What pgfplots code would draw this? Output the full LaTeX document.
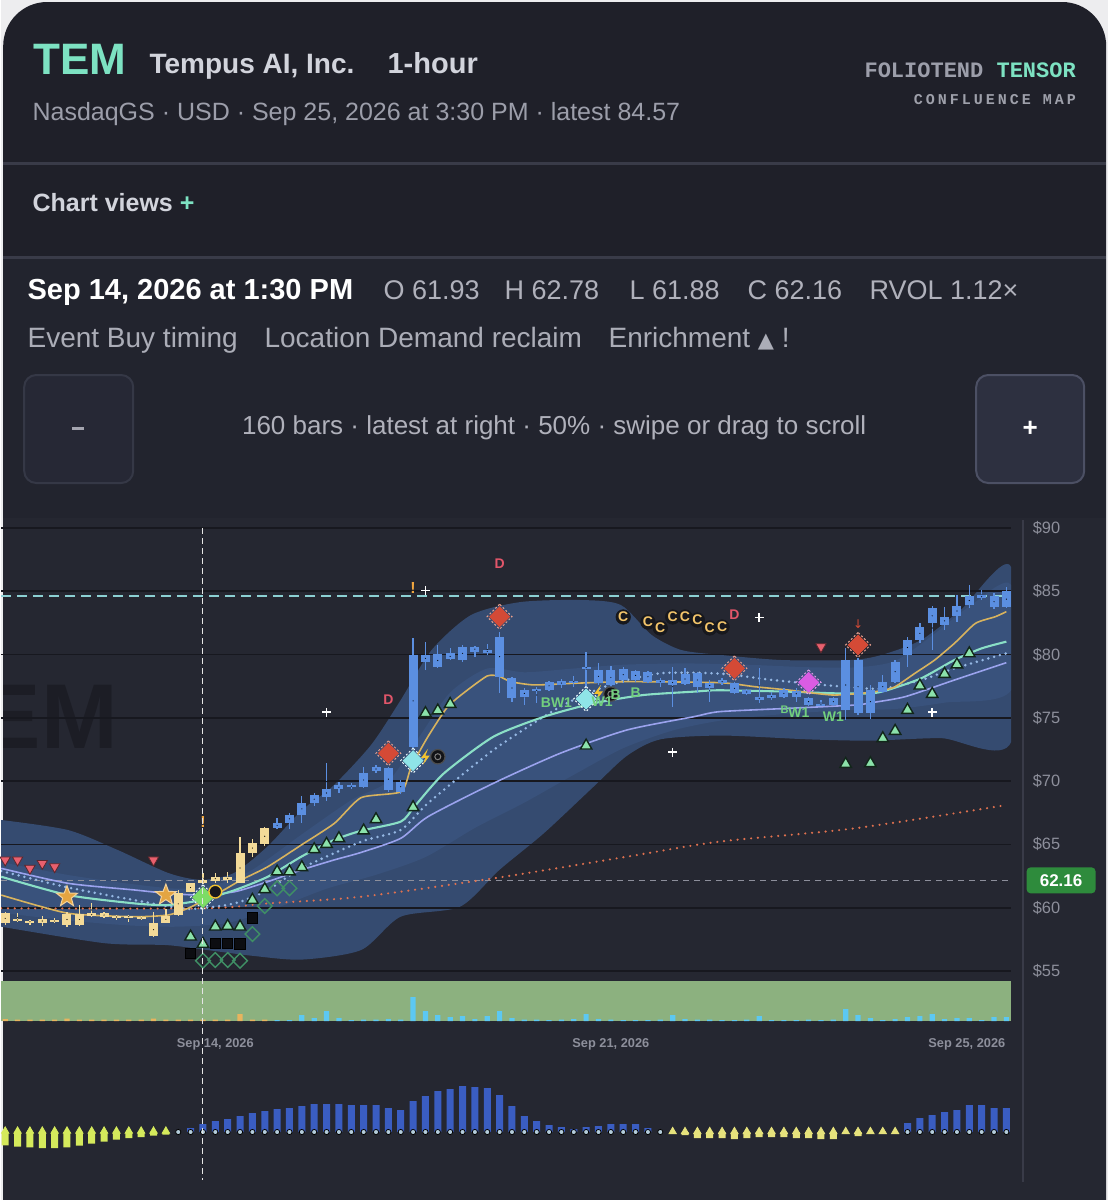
\documentclass[border=0pt]{standalone}
\usepackage{pgfplots}
\pgfplotsset{compat=1.18}
\usepackage{pgfplotstable}
\usetikzlibrary{shapes.geometric}
\usepackage{fontspec}
\setmainfont{Liberation Sans}
\newfontfamily\dejavu{DejaVu Sans}
\newfontfamily\monob[LetterSpace=20]{Liberation Mono}
\newfontfamily\monoa{Liberation Mono}

\definecolor{pagebg}{HTML}{EDEDEF}
\definecolor{cardbg}{HTML}{1F2029}
\definecolor{infobg}{HTML}{22242E}
\definecolor{chartbg}{HTML}{252731}
\definecolor{divc}{HTML}{393B48}
\definecolor{mint}{HTML}{7DE2C2}
\definecolor{hdrTxt}{HTML}{D2D4DC}
\definecolor{subTxt}{HTML}{9C9EAA}
\definecolor{tickgray}{HTML}{8D8F9B}
\definecolor{wmC}{HTML}{1C1D25}
\definecolor{gridc}{HTML}{17181F}
\definecolor{bandO}{HTML}{354B70}
\definecolor{bandI}{HTML}{3D5886}
\definecolor{candY}{HTML}{F3DA98}
\definecolor{candB}{HTML}{5B8FE1}
\definecolor{goldL}{HTML}{D8B35E}
\definecolor{tealL}{HTML}{8ADFC6}
\definecolor{lavL}{HTML}{9BA3EE}
\definecolor{dotB}{HTML}{95B8E4}
\definecolor{dotO}{HTML}{E0714F}
\definecolor{triG}{HTML}{8BE2AA}
\definecolor{triEdge}{HTML}{12261A}
\definecolor{triR}{HTML}{E8606E}
\definecolor{redD}{HTML}{D44A36}
\definecolor{redDE}{HTML}{E9A08E}
\definecolor{cyanD}{HTML}{8FE4E8}
\definecolor{magD}{HTML}{D95CE3}
\definecolor{greenD}{HTML}{7DDC66}
\definecolor{blkSq}{HTML}{0C0D11}
\definecolor{hollowG}{HTML}{3F8F65}
\definecolor{starO}{HTML}{E4A542}
\definecolor{starE}{HTML}{F4D29A}
\definecolor{boltY}{HTML}{F2C230}
\definecolor{cTxt}{HTML}{F2C46A}
\definecolor{cBg}{HTML}{17181D}
\definecolor{letterG}{HTML}{72CF7E}
\definecolor{dRed}{HTML}{E2566A}
\definecolor{exO}{HTML}{F0A640}
\definecolor{labG}{HTML}{2E8B3C}
\definecolor{volG}{HTML}{8CB17F}
\definecolor{volO}{HTML}{E8B45E}
\definecolor{volC}{HTML}{5CC8F2}
\definecolor{histB}{HTML}{3A5DC2}
\definecolor{histYG}{HTML}{D5EA5C}
\definecolor{histY}{HTML}{E6E27C}
\definecolor{histDot}{HTML}{B4CCDA}
\definecolor{btnFill}{HTML}{262835}
\definecolor{btnEdge}{HTML}{353846}
\definecolor{btnTwoFill}{HTML}{2D3040}
\definecolor{btnTwoEdge}{HTML}{4C5064}

\pgfdeclareplotmark{fstar}{\node[star,star points=5,star point ratio=2.4,fill=starO,draw=starE,line width=0.5pt,inner sep=0pt,minimum size=11pt]{};}
\pgfdeclareplotmark{bolt}{%
 \pgfpathmoveto{\pgfpoint{1.3pt}{4pt}}%
 \pgfpathlineto{\pgfpoint{-2.2pt}{-0.6pt}}%
 \pgfpathlineto{\pgfpoint{0pt}{-0.6pt}}%
 \pgfpathlineto{\pgfpoint{-1.3pt}{-4pt}}%
 \pgfpathlineto{\pgfpoint{2.2pt}{0.6pt}}%
 \pgfpathlineto{\pgfpoint{0pt}{0.6pt}}%
 \pgfpathclose\pgfusepathqfill}

\pgfplotsset{candle/.style={only marks, mark=*, mark size=0.01pt, mark options={draw=none, fill=none}, forget plot,
  error bars/y dir=both, error bars/y explicit, error bars/error mark=none}}

\begin{document}

\pgfplotstableread{
i bm bh wm wh
0 59.159 0.395 59.159 0.527
1 59.028 0.105 59.212 0.342
2 58.896 0.090 58.817 0.211
3 58.949 0.132 58.949 0.395
4 58.949 0.090 58.962 0.198
5 59.067 0.435 59.093 0.593
6 59.067 0.435 59.383 0.830
7 59.449 0.105 59.818 0.527
8 59.423 0.184 59.423 0.263
9 59.265 0.105 59.225 0.198
10 59.291 0.090 59.159 0.263
11 59.186 0.105 59.186 0.158
12 58.264 0.500 58.698 0.988
13 59.080 0.263 59.317 0.553
14 60.305 0.882 60.371 1.027
15 61.595 0.329 61.595 0.382
16 62.045 0.115 62.330 0.450
17 62.293 0.158 62.372 0.395
18 62.320 0.132 62.412 0.435
19 63.136 1.159 63.768 1.844
20 64.716 0.369 64.716 0.685
21 65.651 0.619 65.638 0.764
}\candYtab

\pgfplotstableread{
i bm bh wm wh
22 66.494 0.224 66.626 0.435
23 67.021 0.303 66.823 0.632
24 67.811 0.487 67.745 1.080
25 68.575 0.329 68.535 0.500
26 69.062 0.290 69.957 1.501
27 69.523 0.171 69.497 0.461
28 69.602 0.092 69.615 0.263
29 70.089 0.527 70.287 0.856
30 70.958 0.132 70.945 0.329
31 70.155 0.856 70.155 0.988
32 69.562 0.395 69.536 0.553
33 76.344 3.621 76.937 4.346
34 79.702 0.263 79.900 1.119
35 79.531 0.487 79.834 0.922
36 79.860 0.237 80.031 0.461
37 80.097 0.527 80.097 0.658
38 80.426 0.198 80.255 0.421
39 80.255 0.105 80.387 0.421
40 79.834 1.580 79.347 2.410
41 77.358 0.816 77.266 0.988
42 76.937 0.263 76.673 0.658
43 77.174 0.090 76.805 0.658
44 77.529 0.329 77.529 0.382
45 77.753 0.158 77.687 0.356
46 77.859 0.090 77.885 0.421
47 78.965 0.090 78.846 1.383
48 78.280 0.500 78.477 0.882
49 78.188 0.593 78.280 0.816
50 78.412 0.421 78.385 0.658
51 78.359 0.369 78.320 0.461
52 78.254 0.395 78.227 0.500
53 77.859 0.132 77.793 0.329
54 77.793 0.198 77.463 1.580
55 78.069 0.395 78.254 0.658
56 77.990 0.527 77.793 0.856
57 77.556 0.224 77.134 0.856
58 77.859 0.132 77.859 0.263
59 77.332 0.395 77.371 0.487
60 77.042 0.158 77.029 0.224
61 76.542 0.132 77.529 1.383
62 76.673 0.132 76.739 0.329
63 76.937 0.263 76.937 0.395
64 76.910 0.237 76.805 0.527
65 76.278 0.263 76.318 0.356
66 76.028 0.090 76.173 0.237
67 76.278 0.263 76.305 0.369
68 77.595 1.975 77.661 2.831
69 77.463 2.107 77.463 2.239
70 76.278 0.922 76.239 1.356
71 77.463 0.395 77.661 0.724
72 78.649 0.790 78.649 0.922
73 80.558 0.593 80.229 1.185
74 81.677 0.527 81.677 0.790
75 83.060 0.593 82.099 1.738
76 82.665 0.329 82.863 0.922
77 83.442 0.395 83.653 1.053
78 84.272 0.356 84.574 0.922
79 84.574 0.132 84.706 0.395
80 84.179 0.448 84.232 0.658
81 84.377 0.645 84.509 0.856
}\candBtab

\begin{tikzpicture}
\begin{scope}[x=0.5pt,y=-0.5pt]
\useasboundingbox (0,0) rectangle (1107,1200);
\fill[pagebg] (0,0) rectangle (1107,1200);
\fill[cardbg, rounded corners=22pt] (2,2) rectangle (1105,1280);
\fill[infobg] (2,258) rectangle (1105,518);
\fill[chartbg] (2,518) rectangle (1105,1200);
\fill[divc] (2,162) rectangle (1105,165);
\fill[divc] (2,256) rectangle (1105,259);
% header
\node[anchor=base west, inner sep=0pt, text=mint, font=\bfseries\fontsize{22}{22}\selectfont] at (32,74) {TEM};
\node[anchor=base west, inner sep=0pt, text=hdrTxt, font=\bfseries\fontsize{14}{14}\selectfont] at (148,73) {Tempus AI, Inc.};
\node[anchor=base west, inner sep=0pt, text=hdrTxt, font=\bfseries\fontsize{14.5}{14}\selectfont] at (386,73) {1-hour};
\node[anchor=base west, inner sep=0pt, text=subTxt, font=\fontsize{12.5}{13}\selectfont] at (31,120) {NasdaqGS · USD · Sep 25, 2026 at 3:30 PM · latest 84.57};
\node[anchor=base east, inner sep=0pt, font=\monoa\bfseries\fontsize{11}{11}\selectfont] at (1075,77) {\textcolor{subTxt}{FOLIOTEND} \textcolor{mint}{TENSOR}};
\node[anchor=base east, inner sep=0pt, text=tickgray!85, font=\monob\bfseries\fontsize{7.5}{8}\selectfont] at (1075,104) {CONFLUENCE MAP};
\node[anchor=base west, inner sep=0pt, text=hdrTxt, font=\bfseries\fontsize{12.5}{12}\selectfont] at (31,211) {Chart views \textcolor{mint}{+}};
% info rows
\node[anchor=base west, inner sep=0pt, text=white, font=\bfseries\fontsize{14.5}{14}\selectfont] at (26,299) {Sep 14, 2026 at 1:30 PM};
\begin{scope}[every node/.style={anchor=base west, inner sep=0pt, text=subTxt!80!white, font=\fontsize{13.5}{14}\selectfont}]
\node at (382,299) {O 61.93};
\node at (503,299) {H 62.78};
\node at (628,299) {L 61.88};
\node at (746,299) {C 62.16};
\node at (868,299) {RVOL 1.12×};
\end{scope}
\begin{scope}[every node/.style={anchor=base west, inner sep=0pt, text=subTxt!85!white, font=\fontsize{14}{14}\selectfont}]
\node at (26,347) {Event Buy timing};
\node at (263,347) {Location Demand reclaim};
\node at (607,347) {Enrichment {\dejavu\fontsize{10.5}{10}\selectfont ▲} !};
\end{scope}
% buttons
\draw[btnEdge, fill=btnFill, line width=1pt, rounded corners=6pt] (23,375) rectangle (132,483);
\fill[tickgray!80] (71,426.5) rectangle (83,430);
\draw[btnTwoEdge, fill=btnTwoFill, line width=1pt, rounded corners=6pt] (975,375) rectangle (1083,483);
\node[text=white, font=\bfseries\fontsize{13}{13}\selectfont] at (1029,429) {+};
\node[text=subTxt!80!white, font=\fontsize{13}{14}\selectfont] at (553,428) {160 bars · latest at right · 50\% · swipe or drag to scroll};
% watermark
\begin{scope}
\clip (2,520) rectangle (1010,978);
\node[anchor=east, inner sep=0pt, text=wmC, font=\bfseries\fontsize{46}{46}\selectfont] at (117,717) {TEM};
\end{scope}
\end{scope}

%================ PRICE PANEL =================
\begin{axis}[at={(0pt,-489pt)}, anchor=south west, scale only axis,
 width=505pt, height=229pt,
 xmin=-0.324, xmax=81.39, ymin=54.445, ymax=90.632,
 axis line style={draw=none}, xtick=\empty,
 ytick={55,60,65,70,75,80,85,90},
 yticklabels={\$55,\$60,\$65,\$70,\$75,\$80,\$85,\$90},
 yticklabel pos=right, major tick length=0pt,
 yticklabel style={anchor=west, xshift=7.3pt, font=\fontsize{8.2}{9}\selectfont, text=tickgray},
 clip mode=individual]
% outer band (upper edge left to right, lower edge right to left)
\addplot[fill=bandO, draw=none, smooth, tension=0.45, forget plot] coordinates {
(-0.324,66.93) (5.07,66.14) (9.1,64.56) (13.2,62.74) (15.9,62.2) (18.5,62.74) (21.2,64.82) (24,67.7) (26.5,69.6) (29.6,72.86) (32.0,76.41) (34.5,80.36) (37.7,83.13) (41.7,84.15) (46.6,84.31) (49.8,83.92) (52.3,81.55) (54.7,80.36) (57.9,79.97) (62.8,79.57) (68.4,79.57) (70.9,79.97) (74.1,81.15) (77.3,83.52) (81.39,86.9)
(81.39,73.1) (75.7,73.4) (70,73.2) (65,73.3) (58,73.6) (53,73.3) (50.3,72.0) (47.6,69.56) (43.6,65.9) (40,63.0) (36.8,60.08) (32,59.29) (28.8,56.66) (24,55.9) (20,56.2) (16,56.7) (13,57.05) (8,57.2) (-0.324,58.5)} -- cycle;
% inner band
\addplot[fill=bandI, fill opacity=0.55, draw=none, smooth, tension=0.45, forget plot] coordinates {
(-0.324,63.6) (5,62.6) (10,61.9) (14,61.5) (17,61.8) (20,63.0) (24,65.8) (28,68.5) (31,70.0) (33.5,73.5) (36,77.0) (39,78.9) (42,78.6) (46,78.9) (50,79.2) (55,79.3) (60,79.2) (65,79.0) (69,79.0) (72,79.5) (75,81.5) (78,83.8) (81.39,85.5)
(81.39,77.2) (76,76.2) (72,75.7) (68,75.6) (63,75.3) (58,74.8) (54,74.0) (50,72.6) (46,70.5) (42,68.3) (38,66.3) (34,64.0) (30,62.6) (26,61.5) (22,60.0) (18,58.8) (14,58.5) (10,58.6) (5,59.0) (-0.324,59.6)} -- cycle;
% grid lines
\pgfplotsinvokeforeach{55,60,65,70,75,80,85,90}{
 \addplot[gridc, line width=0.8pt, forget plot] coordinates {(-0.324,#1) (81.39,#1)};
}
% reference lines
\addplot[tickgray, line width=0.6pt, dash pattern=on 3pt off 2.5pt, forget plot] coordinates {(-0.324,62.16) (81.39,62.16)};
\addplot[cyanD!80!gray, line width=0.8pt, dash pattern=on 5pt off 3pt, forget plot] coordinates {(-0.324,84.65) (81.39,84.65)};
% moving lines
\addplot[dotO, line width=1.2pt, line cap=round, dash pattern=on 0pt off 3.4pt, smooth, forget plot] coordinates {
(-0.324,59.95) (15.9,59.95) (21.25,60.34) (28.8,60.87) (39.5,62.32) (50.3,64.03) (57.8,65.22) (68.7,66.27) (81.0,68.11)};
\addplot[dotB, line width=1.4pt, line cap=round, dash pattern=on 0pt off 3pt, smooth, tension=0.4, forget plot] coordinates {
(-0.324,62.9) (5.07,61.6) (10.46,60.6) (14.78,59.9) (18.55,60.34) (21.25,61.40) (23.95,63.11) (28.8,65.22) (32.0,66.14) (34.2,68.25) (39.5,72.46) (44.9,75.88) (48.9,77.60) (53.0,78.52) (57.8,78.5) (62.0,78.0) (67.4,77.5) (70.9,77.3) (74.1,77.99) (76.8,78.91) (81.0,80.10)};
\addplot[lavL, line width=0.8pt, smooth, tension=0.4, forget plot] coordinates {
(-0.324,63.11) (5.07,61.93) (10.46,61.40) (13.16,61.13) (15.9,61.00) (18.6,61.27) (21.25,62.06) (23.95,62.98) (26.6,63.77) (28.8,64.37) (32.0,65.48) (34.2,67.19) (39.5,69.83) (44.9,72.20) (50.3,74.04) (55.7,75.09) (57.8,75.49) (63.35,75.75) (68.7,76.01) (70.1,76.20) (72.8,76.67) (76.8,77.99) (81.0,79.36)};
\addplot[tealL, line width=1.05pt, smooth, tension=0.4, forget plot] coordinates {
(-0.324,62.45) (5.07,61.00) (10.46,60.34) (13.16,60.21) (15.9,60.61) (18.6,61.40) (21.25,62.45) (23.95,64.03) (26.6,65.35) (28.8,66.08) (32.0,66.80) (33.1,67.98) (35.5,70.62) (39.5,73.51) (43.6,75.09) (47.6,76.15) (51.6,76.80) (55.7,77.07) (57.8,77.18) (63.35,77.07) (67.1,76.94) (70.1,76.94) (71.4,77.20) (74.1,78.12) (76.8,79.57) (79.0,80.49) (81.0,81.02)};
\addplot[goldL, line width=0.8pt, smooth, tension=0.35, forget plot] coordinates {
(-0.324,61.00) (5.07,59.56) (10.46,59.29) (13.16,59.42) (14.78,59.95) (17.21,61.13) (19.09,62.19) (21.25,63.24) (23.95,64.95) (26.64,66.67) (28.8,68.7) (32.04,69.17) (32.85,71.14) (34.2,73.51) (35.8,75.88) (37.4,77.20) (39.0,78.31) (39.9,78.31) (40.9,77.86) (42.8,77.60) (46.0,77.73) (50.3,77.86) (57.8,77.78) (60.66,77.46) (63.35,77.20) (65.5,76.94) (67.1,76.80) (69.3,76.94) (70.9,77.15) (72.0,77.46) (73.6,78.52) (75.2,79.57) (76.8,80.89) (78.5,82.47) (80.1,82.99) (81.0,83.39)};
% candles
\addplot[candle, error bars/error bar style={line width=0.65pt, candY}] table[x=i, y=wm, y error=wh] {\candYtab};
\addplot[candle, error bars/error bar style={line width=4.5pt, candY}] table[x=i, y=bm, y error=bh] {\candYtab};
\addplot[candle, error bars/error bar style={line width=0.65pt, candB}] table[x=i, y=wm, y error=wh] {\candBtab};
\addplot[candle, error bars/error bar style={line width=4.5pt, candB}] table[x=i, y=bm, y error=bh] {\candBtab};
% red down triangles
\addplot[only marks, mark=triangle*, mark size=3pt, mark options={rotate=180, fill=triR, draw=black!60!triR, line width=0.4pt}] coordinates {(0,63.77) (1,63.77) (2,63.11) (3,63.50) (4,63.24) (12,63.77) (66,80.62)};
% green up triangles
\addplot[only marks, mark=triangle*, mark size=3.3pt, mark options={fill=triG, draw=triEdge, line width=0.7pt}] coordinates {
(15,57.71) (16,57.13) (17,58.50) (18,58.55) (19,58.50) (20,60.61) (21,61.45) (22,62.85) (23,62.85) (24,63.19) (25,64.61) (26,65.03) (27,65.48) (29,66.09) (30,66.98) (33,67.93) (34,75.36) (35,75.57) (36,76.09) (47,72.80)
(68,71.35) (70,71.41) (71,73.38) (72,73.96) (73,75.62) (74,77.54) (75,76.88) (76,78.46) (77,79.21) (78,80.09)};
% black squares
\addplot[only marks, mark=square*, mark size=2.6pt, mark options={fill=blkSq, draw=black}] coordinates {(15,56.39) (17,57.19) (18,57.19) (19,57.13) (20,59.21)};
% hollow diamonds
\addplot[only marks, mark=square, mark size=2.6pt, mark options={rotate=45, draw=hollowG, line width=0.7pt, fill=none}] coordinates {(16,55.81) (17,55.87) (18,55.87) (19,55.81) (20,57.92) (21,60.13) (22,61.53) (23,61.53)};
% stars
\addplot[only marks, mark=fstar] coordinates {(5,60.87) (13,61.00)};
% dashed outlines of large diamonds
\addplot[only marks, mark=square, mark size=4.4pt, mark options={rotate=45, draw=redDE, line width=0.5pt, dash pattern=on 1pt off 1pt}] coordinates {(31,72.20) (40,82.99) (59,78.91) (69,80.76)};
\addplot[only marks, mark=square, mark size=4.4pt, mark options={rotate=45, draw=white!85!cyanD, line width=0.5pt, dash pattern=on 1pt off 1pt}] coordinates {(33,71.62) (47,76.49) (16,60.82)};
\addplot[only marks, mark=square, mark size=4.4pt, mark options={rotate=45, draw=magD!60!white, line width=0.5pt, dash pattern=on 1pt off 1pt}] coordinates {(65,77.81)};
% filled diamonds
\addplot[only marks, mark=square*, mark size=3.5pt, mark options={rotate=45, fill=redD, draw=redD}] coordinates {(31,72.20) (40,82.99) (59,78.91) (69,80.76)};
\addplot[only marks, mark=square*, mark size=3.5pt, mark options={rotate=45, fill=cyanD, draw=cyanD}] coordinates {(33,71.62) (47,76.49)};
\addplot[only marks, mark=square*, mark size=3.6pt, mark options={rotate=45, fill=greenD, draw=greenD}] coordinates {(16,60.82)};
\addplot[only marks, mark=square*, mark size=3.5pt, mark options={rotate=45, fill=magD, draw=magD}] coordinates {(65,77.81)};
% circle arrow, targets
\addplot[only marks, mark=*, mark size=3.2pt, mark options={fill=cBg, draw=boltY, line width=0.7pt}] coordinates {(17,61.27)};
\addplot[only marks, mark=*, mark size=3.6pt, mark options={fill=cBg!80!black, draw=gray!60!black, line width=0.6pt}] coordinates {(35,71.93) (49,76.88)};
\addplot[only marks, mark=o, mark size=1.5pt, mark options={draw=gray, line width=0.5pt}] coordinates {(35,71.93) (49,76.88)};
% bolts
\addplot[only marks, mark=bolt, mark options={fill=boltY}] coordinates {(34,71.93) (48,76.99)};
% sparkles
\addplot[only marks, mark=+, mark size=2.2pt, mark options={draw=white, line width=0.8pt}] coordinates {(26,75.44) (34,85.05) (54,72.28) (61,82.94) (75,75.44)};
% C badges
\addplot[only marks, mark=*, mark size=3.6pt, mark options={fill=cBg, draw=cBg}] coordinates {(50,82.97) (52,82.57) (53,82.10) (54,82.97) (55,82.97) (56,82.73) (57,82.10) (58,82.18)};
\begin{scope}[every node/.style={text=cTxt, font=\bfseries\fontsize{7}{7}\selectfont, inner sep=0pt}]
\node at (axis cs:50,82.97) {C};
\node at (axis cs:52,82.57) {C};
\node at (axis cs:53,82.10) {C};
\node at (axis cs:54,82.97) {C};
\node at (axis cs:55,82.97) {C};
\node at (axis cs:56,82.73) {C};
\node at (axis cs:57,82.10) {C};
\node at (axis cs:58,82.18) {C};
\end{scope}
\begin{scope}[every node/.style={text=dRed, font=\bfseries\fontsize{7}{7}\selectfont, inner sep=0pt}]
\node at (axis cs:31,76.41) {D};
\node at (axis cs:40,87.21) {D};
\node at (axis cs:59,83.13) {D};
\node[font=\dejavu\fontsize{6}{6}\selectfont, text=redD] at (axis cs:69,82.4) {↓};
\end{scope}
\begin{scope}[every node/.style={text=exO, font=\bfseries\fontsize{8}{8}\selectfont, inner sep=0pt}]
\node at (axis cs:33,85.23) {!};
\node at (axis cs:16,66.80) {!};
\end{scope}
\begin{scope}[every node/.style={text=letterG, font=\bfseries\fontsize{7}{7}\selectfont, inner sep=0pt}]
\node at (axis cs:44.6,76.17) {BW1};
\node at (axis cs:48.3,76.25) {W1};
\node at (axis cs:49.4,76.85) {B};
\node at (axis cs:51.0,77.0) {B};
\node at (axis cs:63.9,75.49) {\raisebox{2pt}{\fontsize{5.5}{6}\selectfont B}W1};
\node at (axis cs:67.0,75.09) {W1};
\end{scope}
% price label
\node[fill=labG, text=white, font=\bfseries\fontsize{8.5}{9}\selectfont, rounded corners=2pt, minimum width=34.5pt, minimum height=13pt, inner sep=0pt, anchor=west, xshift=7.5pt] at (axis cs:81.39,62.16) {62.16};
\end{axis}

%================ VOLUME PANEL =================
\begin{axis}[at={(0pt,-510.5pt)}, anchor=south west, scale only axis,
 width=505pt, height=20pt,
 xmin=-0.324, xmax=81.39, ymin=0, ymax=40,
 axis line style={draw=none}, ytick=\empty,
 axis background/.style={fill=volG},
 xtick={17,49,77.8},
 xticklabels={{Sep 14, 2026},{Sep 21, 2026},{Sep 25, 2026}},
 major tick length=0pt,
 xticklabel style={anchor=center, yshift=-11.5pt, font=\bfseries\fontsize{6.4}{7}\selectfont, text=tickgray}]
\addplot[ybar, bar width=2.6pt, bar shift=0pt, fill=volO, draw=none] coordinates {
(0,2) (1,1.5) (2,1.5) (3,1.5) (4,1.5) (5,2.5) (6,1.5) (7,1.5) (8,1.5) (9,1.5) (10,1.5) (11,1.5) (12,2.5) (13,1.5) (14,1.5) (15,1.5) (16,1.5) (17,1.5) (18,1.5) (19,7) (20,1.5) (21,1.5)};
\addplot[ybar, bar width=2.6pt, bar shift=0pt, fill=volC, draw=none] coordinates {
(22,1) (23,1) (24,6) (25,3) (26,10) (27,3) (28,1) (29,1.5) (30,1.5) (31,2) (32,1.5) (33,24) (34,10) (35,6) (36,4) (37,5) (38,2) (39,5) (40,10) (41,3) (42,1.5) (43,1.5) (44,1) (45,1.5) (46,2) (47,7) (48,2) (49,1.5) (50,1) (51,1) (52,1) (53,1.5) (54,6) (55,2) (56,1.5) (57,1.5) (58,1) (59,1) (60,1.5) (61,5) (62,1) (63,1) (64,1) (65,1.5) (66,1) (67,1.5) (68,12) (69,6) (70,3) (71,1) (72,2) (73,4) (74,5) (75,7) (76,2) (77,3) (78,3) (79,1) (80,4) (81,4)};
\end{axis}

%================ HISTOGRAM PANEL =================
\begin{axis}[at={(0pt,-590pt)}, anchor=south west, scale only axis,
 width=505pt, height=60pt,
 xmin=-0.324, xmax=81.39, ymin=-48, ymax=72,
 axis line style={draw=none}, xtick=\empty, ytick=\empty]
\addplot[ybar, bar width=3.5pt, bar shift=0pt, fill=histYG, draw=none] coordinates {
(0,-13.3) (1,-14.7) (2,-15.3) (3,-16) (4,-16) (5,-15.3) (6,-13.7) (7,-11.7) (8,-9.7) (9,-7.7) (10,-6) (11,-5) (12,-3.7) (13,-2.7)};
\addplot[only marks, mark=triangle*, mark size=2.1pt, mark options={fill=histYG, draw=histYG}] coordinates {
(0,1) (1,1) (2,1) (3,1) (4,1) (5,1) (6,1) (7,1) (8,1) (9,1) (10,1) (11,1) (12,1) (13,1)};
\addplot[ybar, bar width=3.5pt, bar shift=0pt, fill=histY, draw=none] coordinates {
(55,-3) (56,-6) (57,-6) (58,-6) (59,-7) (60,-6) (61,-5) (62,-5) (63,-5) (64,-6) (65,-6) (66,-7) (67,-7) (69,-4)};
\addplot[only marks, mark=triangle*, mark size=2.1pt, mark options={fill=histY, draw=histY}] coordinates {
(54,0.5) (55,0.5) (56,0.5) (57,0.5) (58,0.5) (59,0.5) (60,0.5) (61,0.5) (62,0.5) (63,0.5) (64,0.5) (65,0.5) (66,0.5) (67,0.5) (68,0.5) (69,0.5) (70,0.5) (71,0.5) (72,0.5)};
\addplot[ybar, bar width=3.5pt, bar shift=0pt, fill=histB, draw=none] coordinates {
(15,4) (16,8) (17,11) (18,13) (19,16) (20,19) (21,21) (22,23) (23,24) (24,26) (25,28) (26,28) (27,28) (28,27) (29,27) (30,27) (31,24) (32,22) (33,31) (34,36) (35,41) (36,43) (37,46) (38,45) (39,44) (40,37) (41,26) (42,16) (43,11) (44,7) (45,5) (46,3) (47,5) (48,6) (49,8) (50,8) (51,8) (52,4)
(73,9) (74,14) (75,17) (76,20) (77,22) (78,27) (79,27) (80,24) (81,24)};
\addplot[only marks, mark=*, mark size=1.3pt, mark options={fill=histDot, draw=none}] coordinates {
(14,0) (15,0) (16,0) (17,0) (18,0) (19,0) (20,0) (21,0) (22,0) (23,0) (24,0) (25,0) (26,0) (27,0) (28,0) (29,0) (30,0) (31,0) (32,0) (33,0) (34,0) (35,0) (36,0) (37,0) (38,0) (39,0) (40,0) (41,0) (42,0) (43,0) (44,0) (45,0) (46,0) (47,0) (48,0) (49,0) (50,0) (51,0) (52,0) (53,0) (73,0) (74,0) (75,0) (76,0) (77,0) (78,0) (79,0) (80,0) (81,0)};
\end{axis}

% overlays
\begin{scope}[x=0.5pt,y=-0.5pt]
\draw[divc, line width=0.8pt] (1022,520) -- (1022,1182);
\draw[white!80!gray, line width=0.5pt, dash pattern=on 3pt off 2pt] (201.8,528) -- (201.8,1180);
\end{scope}
\end{tikzpicture}
\end{document}
